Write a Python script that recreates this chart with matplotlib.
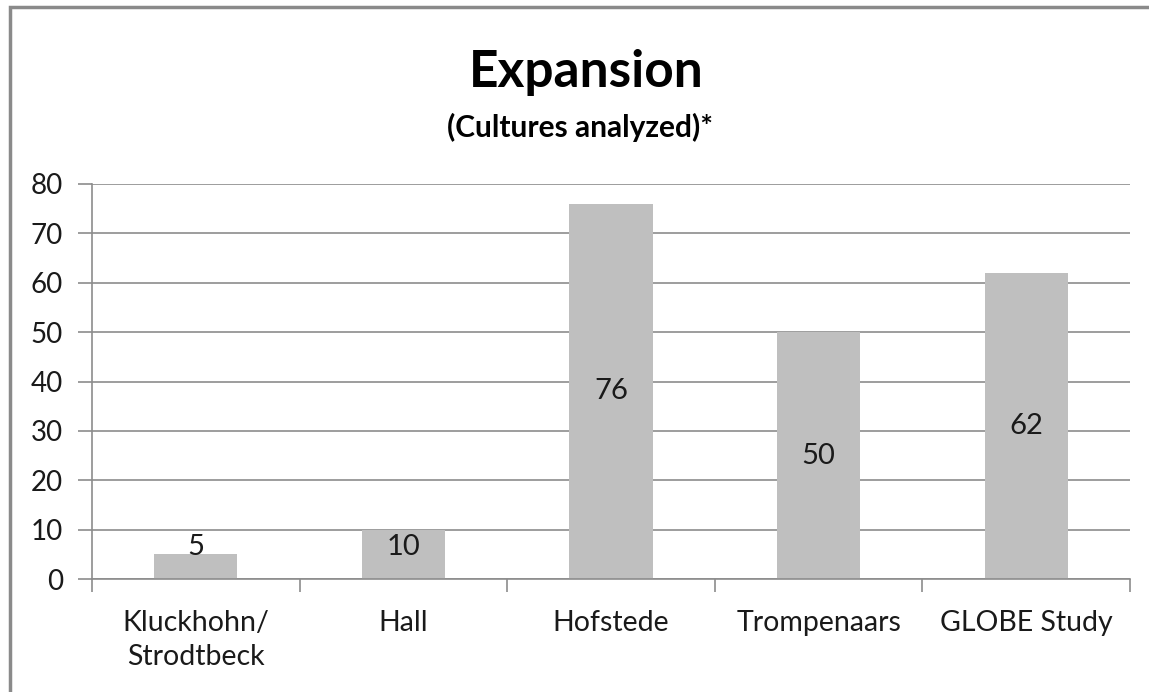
import matplotlib
matplotlib.use("Agg")
import matplotlib.pyplot as plt
from matplotlib.patches import Rectangle

categories = ["Kluckhohn/\nStrodtbeck", "Hall", "Hofstede", "Trompenaars", "GLOBE Study"]
values = [5, 10, 76, 50, 62]
yticks = [0, 10, 20, 30, 40, 50, 60, 70, 80]

plt.rcParams["font.family"] = ["Lato", "DejaVu Sans"]

W, H = 1149, 692
fig = plt.figure(figsize=(W / 100, H / 100), dpi=100)
ax = fig.add_axes([92 / W, 1 - 579 / H, (1130 - 92) / W, (579 - 184) / H])

grid_c = "#8c8c8c"
x = list(range(len(categories)))
ax.bar(x, values, width=0.4, color="#bfbfbf", zorder=2)

# value labels centred on bar, pushed up a bit for short bars
for xi, v in zip(x, values):
    ax.text(xi, max(v / 2, 6.5), str(v), ha="center", va="center",
            fontsize=21, color="#1a1a1a", zorder=3)

ax.set_xlim(-0.5, len(categories) - 0.5)
ax.set_ylim(0, 80)
ax.set_yticks(yticks)
ax.yaxis.grid(True, color=grid_c, linewidth=1.2, zorder=0)
ax.set_axisbelow(True)

# major ticks between categories, labels on minor ticks at the centres
ax.set_xticks([i + 0.5 for i in range(-1, len(categories))], minor=False)
ax.set_xticklabels([])
ax.set_xticks(x, minor=True)
ax.set_xticklabels(categories, minor=True, fontsize=20.5, color="#1a1a1a",
                   linespacing=1.42)
ax.tick_params(axis="x", which="major", length=9, color=grid_c, width=1.2)
ax.tick_params(axis="x", which="minor", length=0, pad=22)
ax.tick_params(axis="y", length=10, color=grid_c, width=1.2, labelsize=20,
               labelcolor="#1a1a1a", pad=11)

for s in ["top", "right"]:
    ax.spines[s].set_visible(False)
for s in ["left", "bottom"]:
    ax.spines[s].set_color(grid_c)
    ax.spines[s].set_linewidth(1.2)

fig.text(586 / W, 1 - 87 / H, "Expansion", ha="center", va="baseline",
         fontsize=37, fontweight="bold", color="#000000")
fig.text(580 / W, 1 - 137 / H, "(Cultures analyzed)*", ha="center", va="baseline",
         fontsize=21.5, fontweight="bold", color="#000000")

# outer chart border (only left/top visible in the crop)
fig.patches.append(Rectangle((10 / W, -0.05), 1.1, 1 - 7 / H + 0.05,
                             transform=fig.transFigure, fill=False,
                             edgecolor="#8a8a8a", linewidth=2.5))

fig.savefig("out.png", dpi=100)
